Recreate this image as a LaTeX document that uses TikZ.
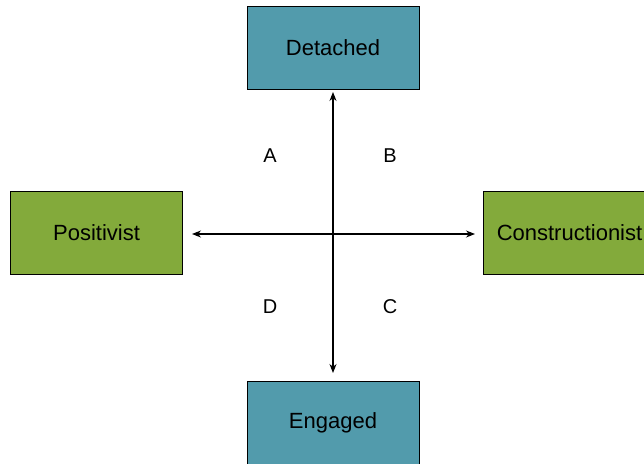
\documentclass[tikz,border=0pt]{standalone}
\usepackage{fontspec}
\setmainfont{Liberation Sans}
\usetikzlibrary{arrows.meta}
\definecolor{tealbox}{RGB}{82,155,172}
\definecolor{greenbox}{RGB}{131,170,59}
\begin{document}
\begin{tikzpicture}[x=1pt,y=-1pt,
  box/.style={draw=black,line width=0.9pt,minimum width=172pt,minimum height=83pt,
    inner sep=0pt,font=\fontsize{22}{26}\selectfont},
  axisbox/.style={box,fill=tealbox},
  stancebox/.style={box,fill=greenbox},
  quad/.style={font=\fontsize{20}{24}\selectfont},
  axis/.style={line width=1.1pt,{Stealth[length=9pt,width=7pt]}-{Stealth[length=9pt,width=7pt]}}]
\useasboundingbox (0,0) rectangle (644,463);
\node[axisbox] (det) at (333,47.5) {Detached};
\node[axisbox] (eng) at (333,422.5) {Engaged};
\node[stancebox] (pos) at (96.5,233) {Positivist};
\node[stancebox] (con) at (569.5,233) {Constructionist};
\coordinate (top) at (333,92);
\coordinate (bot) at (333,373);
\coordinate (lft) at (192,234);
\coordinate (rgt) at (475,234);
\draw[axis] (top) -- (bot);
\draw[axis] (lft) -- (rgt);
\node[quad] (qa) at (270,156) {A};
\node[quad] (qb) at (390,156) {B};
\node[quad] (qc) at (390,307) {C};
\node[quad] (qd) at (270,307) {D};
\end{tikzpicture}
\end{document}
